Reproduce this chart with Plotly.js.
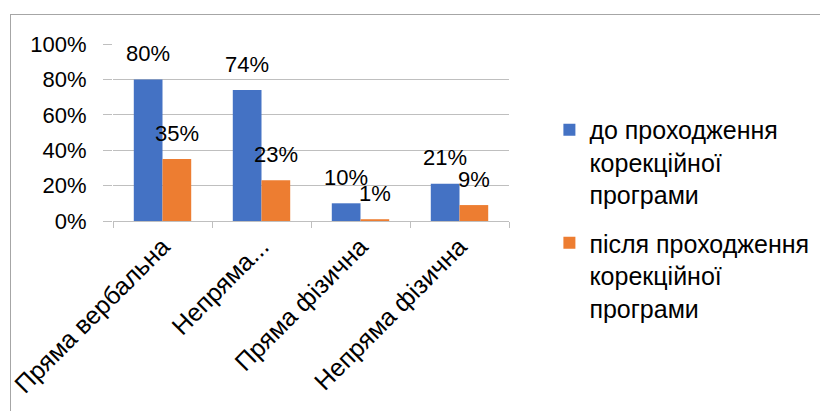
<!DOCTYPE html>
<html>
<head>
<meta charset="utf-8">
<script src="https://cdn.plot.ly/plotly-3.0.1.min.js"></script>
<style>
  html, body { margin: 0; padding: 0; background: #fff; }
  #wrap { position: relative; width: 820px; height: 411px; overflow: hidden; }
  #chart { position: absolute; left: 0; top: 0; width: 820px; height: 411px; }
  #frame { position: absolute; left: 10px; top: 14px; width: 830px; height: 420px;
           border-left: 1px solid #a6a6a6; border-top: 1px solid #a6a6a6; pointer-events: none; }
</style>
</head>
<body>
<div id="wrap">
  <div id="chart"></div>
  <div id="frame"></div>
</div>
<script>
const categories = ["Пряма вербальна", "Непряма...", "Пряма фізична", "Непряма фізична"];
const seriesNames = ["до проходження<br>корекційної<br>програми", "після проходження<br>корекційної<br>програми"];
const before = [0.80, 0.74, 0.10, 0.21];
const after = [0.35, 0.23, 0.01, 0.09];
const yTickVals = [0, 0.2, 0.4, 0.6, 0.8, 1.0];
const yTickText = ["0%", "20%", "40%", "60%", "80%", "100%"];

const FONT = "Liberation Sans, Arial, sans-serif";
const FS = 22;
const FS_TEXT = 25;
const colors = ["#4472C4", "#ED7D31"];
const seriesValues = [before, after];
const legendIds = ["legend", "legend2"];

const traces = seriesValues.map((vals, i) => ({
  type: "bar",
  name: seriesNames[i],
  x: categories,
  y: vals,
  legend: legendIds[i],
  marker: { color: colors[i] },
  hoverinfo: "skip"
}));

const annotations = [];
seriesValues.forEach((vals, i) => {
  vals.forEach((v, j) => {
    annotations.push({
      x: categories[j], y: v, xref: "x", yref: "y",
      text: Math.round(v * 100) + "%",
      showarrow: false,
      xshift: i === 0 ? -14.5 : 14.5,
      yshift: 26,
      yanchor: "middle",
      font: { family: FONT, size: FS, color: "#000" }
    });
  });
});

const legendBase = {
  xref: "container", yref: "container",
  xanchor: "left", yanchor: "top", valign: "top",
  font: { family: FONT, size: FS_TEXT, color: "#000" },
  itemwidth: 30, bgcolor: "rgba(0,0,0,0)"
};

const layout = {
  width: 820, height: 411,
  margin: { l: 113, r: 311, t: 44, b: 190, autoexpand: false },
  paper_bgcolor: "#fff",
  plot_bgcolor: "#fff",
  barmode: "group",
  bargap: 0.42,
  bargroupgap: 0,
  showlegend: true,
  legend: Object.assign({}, legendBase, { x: 0.670, y: 0.7397 }),
  legend2: Object.assign({}, legendBase, { x: 0.670, y: 0.4647 }),
  xaxis: {
    type: "category",
    tickangle: -45,
    tickson: "boundaries",
    ticks: "outside", ticklen: 6, tickcolor: "#bfbfbf",
    showline: true, linecolor: "#bfbfbf", linewidth: 1,
    showgrid: false,
    tickfont: { family: FONT, size: FS_TEXT, color: "#000" },
    fixedrange: true
  },
  yaxis: {
    range: [0, 1],
    tickvals: yTickVals, ticktext: yTickText,
    ticks: "outside", ticklen: 9, tickcolor: "#bfbfbf",
    showgrid: true, gridcolor: "#bfbfbf", gridwidth: 1,
    showline: false, zeroline: false,
    tickfont: { family: FONT, size: FS, color: "#000" },
    ticklabelstandoff: 12,
    fixedrange: true
  },
  annotations: annotations
};

Plotly.newPlot("chart", traces, layout, { displayModeBar: false, staticPlot: true });
</script>
</body>
</html>
